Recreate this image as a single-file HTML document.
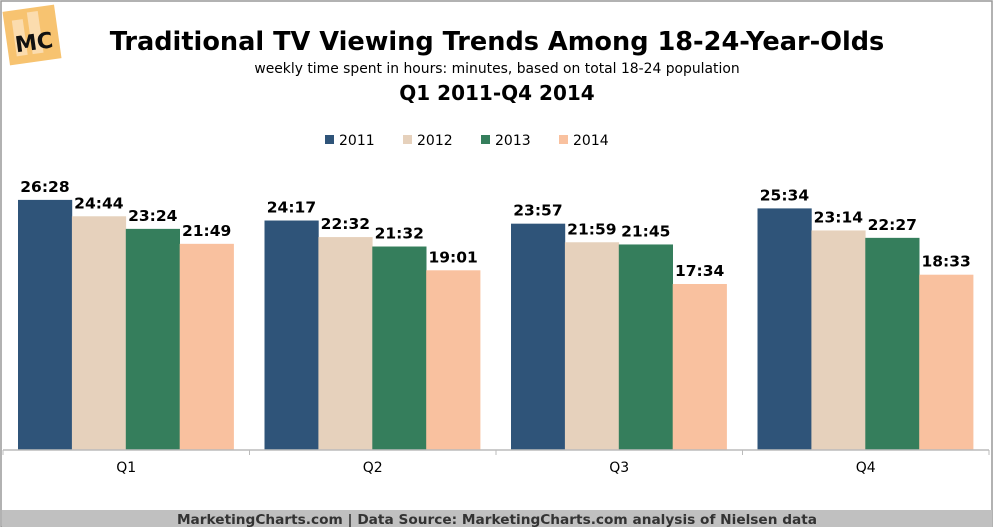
<!DOCTYPE html>
<html><head><meta charset="utf-8"><style>
body{margin:0;background:#fff;font-family:"Liberation Sans",Verdana,sans-serif}
</style></head><body>
<svg width="995" height="527" xmlns="http://www.w3.org/2000/svg" font-family="Verdana, 'DejaVu Sans', 'Liberation Sans', sans-serif">
<rect x="1" y="1" width="991" height="526" fill="#fff" stroke="#999" stroke-width="1.5"/>
<g>
<rect x="6" y="8" width="52" height="54" fill="#f7c370" transform="rotate(-8 32 35)"/>
<rect x="14" y="18" width="11" height="36" fill="#fbdcae" transform="rotate(-8 32 35)"/>
<rect x="30" y="12" width="11" height="42" fill="#fbdcae" transform="rotate(-8 32 35)"/>
<text x="33" y="50" text-anchor="middle" font-size="22" font-weight="bold" fill="#111" transform="rotate(-8 32 35)">MC</text>
</g>
<text x="497" y="50" text-anchor="middle" font-size="25.6" font-weight="bold" fill="#000">Traditional TV Viewing Trends Among 18-24-Year-Olds</text>
<text x="497" y="73" text-anchor="middle" font-size="13.9" fill="#000">weekly time spent in hours: minutes, based on total 18-24 population</text>
<text x="497" y="100" text-anchor="middle" font-size="20" font-weight="bold" fill="#000">Q1 2011-Q4 2014</text>
<g id="legend"></g>
<g id="bars"></g>
<line x1="3" y1="450" x2="989" y2="450" stroke="#bbb" stroke-width="1.5"/>
<g id="xaxis"></g>
<rect x="2" y="510" width="990" height="17" fill="#c0c0c0"/>
<text x="497" y="524" text-anchor="middle" font-size="13.7" font-weight="bold" fill="#333">MarketingCharts.com | Data Source: MarketingCharts.com analysis of Nielsen data</text>
</svg>
<script>
const categories=["Q1","Q2","Q3","Q4"];
const seriesNames=["2011","2012","2013","2014"];
const colors=["#2f5479","#e6d1bc","#357e5c","#f9c19f"];
const v2011=["26:28","24:17","23:57","25:34"];
const v2012=["24:44","22:32","21:59","23:14"];
const v2013=["23:24","21:32","21:45","22:27"];
const v2014=["21:49","19:01","17:34","18:33"];
const series=[v2011,v2012,v2013,v2014];
const NS="http://www.w3.org/2000/svg";
const x0=3,groupW=246.5,pad=15,barW=53.9,base=450,pxPerHour=9.45;
function toHours(s){const p=s.split(":");return +p[0]+ +p[1]/60;}
function yScale(h){return base-h*pxPerHour;}
function xBar(ci,si){return x0+ci*groupW+pad+si*barW;}
function mk(tag,attrs,parent){const e=document.createElementNS(NS,tag);for(const k in attrs)e.setAttribute(k,attrs[k]);parent.appendChild(e);return e;}
const bars=document.getElementById('bars');
series.forEach((vals,si)=>{vals.forEach((v,ci)=>{
 const y=yScale(toHours(v));
 const r=mk('rect',{x:xBar(ci,si),y:y,width:barW+0.3,height:base-y,fill:colors[si]},bars);
 
 
 const t=mk('text',{x:xBar(ci,si)+barW/2,y:y-8,'text-anchor':'middle','font-size':'15.5','font-weight':'bold',fill:'#000'},bars);
 t.textContent=v;
 
 
});});
const xa=document.getElementById('xaxis');
categories.forEach((c,ci)=>{
 const t=mk('text',{x:x0+ci*groupW+groupW/2,y:472,'text-anchor':'middle','font-size':'14','fill':'#000'},xa);
 t.textContent=c;
 
 
 const l=mk('line',{x1:x0+ci*groupW,y1:450,x2:x0+ci*groupW,y2:455,stroke:'#bbb'},xa);
 
 
});
mk('line',{x1:989,y1:450,x2:989,y2:455,stroke:'#bbb'},xa);
const lg=document.getElementById('legend');
const lx=[325,403,481,559];
seriesNames.forEach((n,i)=>{
 const g=mk('g',{},lg);
 
 
 mk('rect',{x:lx[i],y:135,width:9,height:9,fill:colors[i]},g);
 const t=mk('text',{x:lx[i]+14,y:145,'font-size':'14',fill:'#000'},g);
 t.textContent=n;
});
</script>
</body></html>
